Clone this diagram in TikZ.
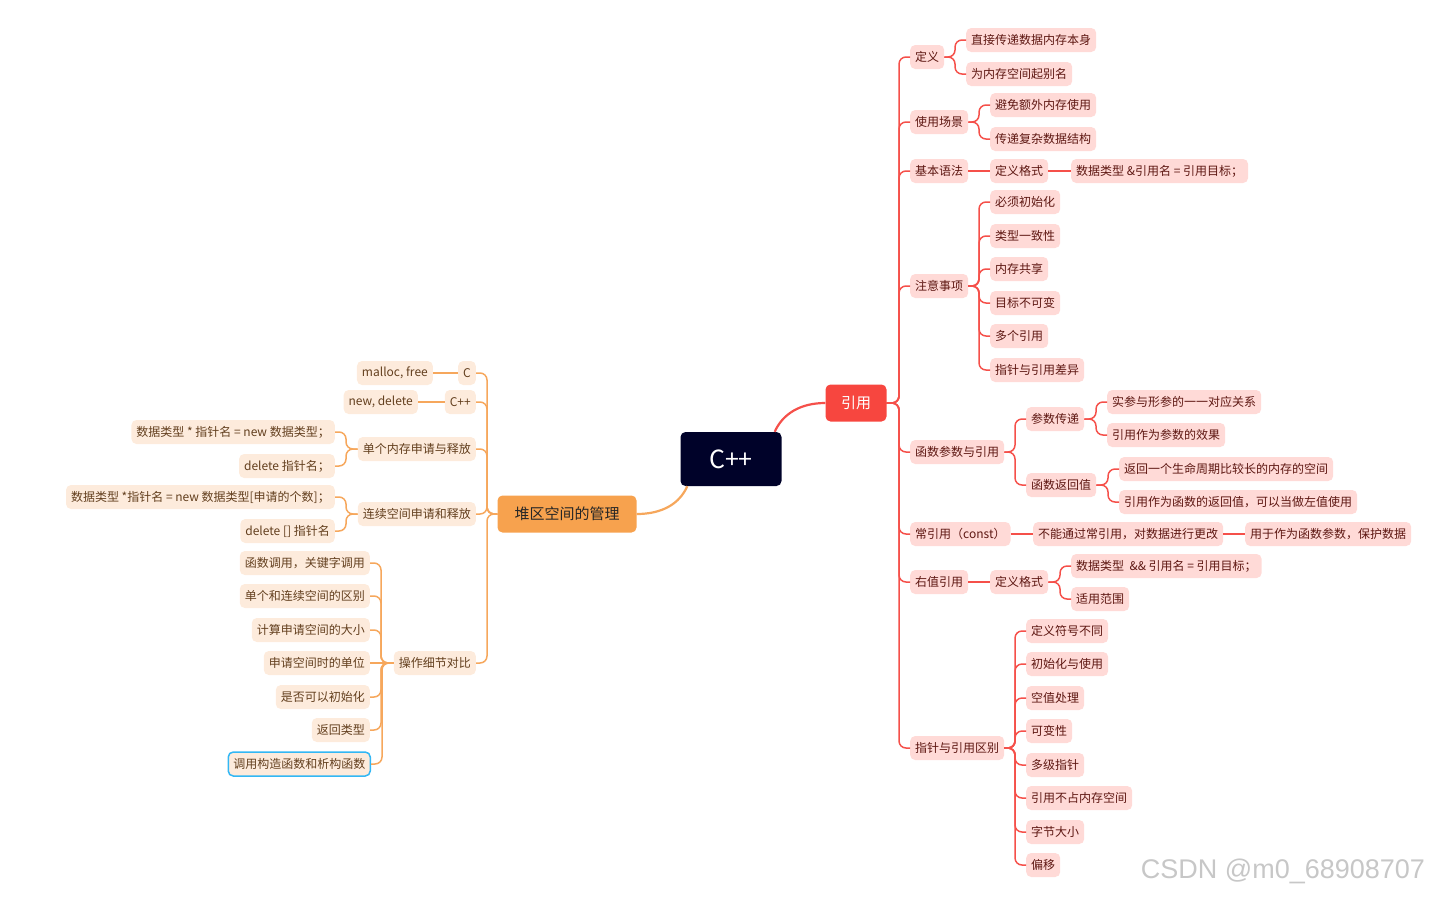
\documentclass[tikz,border=0pt]{standalone}
\usepackage{fontspec}
\setmainfont{Noto Sans CJK SC}
\newfontfamily\wmfont{Liberation Sans}
\usepackage{xcolor}
\usetikzlibrary{positioning}
\definecolor{hubfill}{HTML}{000229}
\definecolor{refred}{HTML}{F7463F}
\definecolor{refline}{HTML}{F5504A}
\definecolor{refleaf}{HTML}{FFDAD7}
\definecolor{reftext}{HTML}{5E1712}
\definecolor{heaporg}{HTML}{F7A24E}
\definecolor{heapline}{HTML}{F6A75C}
\definecolor{heapleaf}{HTML}{FDEBDC}
\definecolor{heaptext}{HTML}{633F1E}
\definecolor{selblue}{HTML}{33B7F4}

\begin{document}
\begin{tikzpicture}[x=1pt, y=-1pt,
    font=\fontsize{12}{14}\selectfont,
    rln/.style={draw=refline, line width=1.5pt, rounded corners=7pt},
    oln/.style={draw=heapline, line width=1.5pt, rounded corners=7pt},
    rnd/.style={fill=refleaf, text=reftext, rounded corners=5pt,
                minimum height=24pt, inner xsep=5pt, inner ysep=0pt, anchor=west},
    ond/.style={fill=heapleaf, text=heaptext, rounded corners=5pt,
                minimum height=24pt, inner xsep=5pt, inner ysep=0pt, anchor=east}]
  \useasboundingbox (0,0) rectangle (1431,897);

  % centre and the two main branches
  \node[fill=hubfill, text=white, rounded corners=5pt, minimum width=101pt,
        minimum height=54pt, font=\fontsize{25}{30}\selectfont] (hub) at (731,459) {C++};
  \node[fill=refred, text=white, rounded corners=5pt, minimum width=61pt,
        minimum height=37pt, font=\fontsize{15}{18}\selectfont] (yy) at (856,403) {引用};
  \node[fill=heaporg, text=black!85, rounded corners=5pt, minimum width=139pt,
        minimum height=37pt, font=\fontsize{15}{18}\selectfont] (heap) at (567,514) {堆区空间的管理};
  \draw[refline, line width=2.2pt] ([xshift=-7pt]hub.north east)
       .. controls +(8,-18) and +(-25,0) .. (yy.west);
  \draw[heapline, line width=2.2pt] ([xshift=7pt]hub.south west)
       .. controls +(-8,18) and +(25,0) .. (heap.east);

  % right side: 引用
  \node[rnd] (d1) at (910,57)  {定义};
  \node[rnd] (d2) at (910,122) {使用场景};
  \node[rnd] (d3) at (910,171) {基本语法};
  \node[rnd] (d4) at (910,286) {注意事项};
  \node[rnd] (d5) at (910,452) {函数参数与引用};
  \node[rnd] (d6) at (910,534) {常引用（const）};
  \node[rnd] (d7) at (910,582) {右值引用};
  \node[rnd] (d8) at (910,748) {指针与引用区别};

  \node[rnd] (d1a) at (966,40) {直接传递数据内存本身};
  \node[rnd] (d1b) at (966,74) {为内存空间起别名};
  \node[rnd] (d2a) at (990,105) {避免额外内存使用};
  \node[rnd] (d2b) at (990,139) {传递复杂数据结构};
  \node[rnd] (d3a) at (990,171) {定义格式};
  \node[rnd] (d3b) at (1071,171) {数据类型 \&引用名 = 引用目标；};

  \node[rnd] (d4a) at (990,202) {必须初始化};
  \node[rnd] (d4b) at (990,236) {类型一致性};
  \node[rnd] (d4c) at (990,269) {内存共享};
  \node[rnd] (d4d) at (990,303) {目标不可变};
  \node[rnd] (d4e) at (990,336) {多个引用};
  \node[rnd] (d4f) at (990,370) {指针与引用差异};

  \node[rnd] (d5a) at (1026,419) {参数传递};
  \node[rnd] (d5b) at (1026,485) {函数返回值};
  \node[rnd] (d5a1) at (1107,402) {实参与形参的一一对应关系};
  \node[rnd] (d5a2) at (1107,435) {引用作为参数的效果};
  \node[rnd] (d5b1) at (1119,469) {返回一个生命周期比较长的内存的空间};
  \node[rnd] (d5b2) at (1119,502) {引用作为函数的返回值，可以当做左值使用};

  \node[rnd] (d6a) at (1033,534) {不能通过常引用，对数据进行更改};
  \node[rnd] (d6b) at (1245,534) {用于作为函数参数，保护数据};

  \node[rnd] (d7a) at (990,582) {定义格式};
  \node[rnd] (d7a1) at (1071,566) {数据类型\ \ \&\& 引用名 = 引用目标；};
  \node[rnd] (d7a2) at (1071,599) {适用范围};

  \node[rnd] (d8a) at (1026,631) {定义符号不同};
  \node[rnd] (d8b) at (1026,664) {初始化与使用};
  \node[rnd] (d8c) at (1026,698) {空值处理};
  \node[rnd] (d8d) at (1026,731) {可变性};
  \node[rnd] (d8e) at (1026,765) {多级指针};
  \node[rnd] (d8f) at (1026,798) {引用不占内存空间};
  \node[rnd] (d8g) at (1026,832) {字节大小};
  \node[rnd] (d8h) at (1026,865) {偏移};

  \foreach \c in {d1,d2,d3,d4,d5,d6,d7,d8}
    \draw[rln] (yy.east) -| ([xshift=-11pt]\c.west) -- (\c.west);
  \foreach \p/\c in {d1/d1a, d1/d1b, d2/d2a, d2/d2b,
                     d4/d4a, d4/d4b, d4/d4c, d4/d4d, d4/d4e, d4/d4f,
                     d5/d5a, d5/d5b, d5a/d5a1, d5a/d5a2, d5b/d5b1, d5b/d5b2,
                     d7a/d7a1, d7a/d7a2,
                     d8/d8a, d8/d8b, d8/d8c, d8/d8d, d8/d8e, d8/d8f, d8/d8g, d8/d8h}
    \draw[rln] (\p.east) -| ([xshift=-11pt]\c.west) -- (\c.west);
  % straight links on one level
  \foreach \p/\c in {d3/d3a, d3a/d3b, d6/d6a, d6a/d6b, d7/d7a}
    \draw[rln] (\p.east) -- (\c.west);

  % left side: 堆区空间的管理
  \node[ond] (h1) at (476,373) {C};
  \node[ond] (h2) at (476,402) {C++};
  \node[ond] (h3) at (476,449) {单个内存申请与释放};
  \node[ond] (h4) at (476,514) {连续空间申请和释放};
  \node[ond] (h5) at (476,663) {操作细节对比};

  \node[ond] (h1a) at (433,373) {malloc, free};
  \node[ond] (h2a) at (418,402) {new, delete};
  \node[ond] (h3a) at (335,432) {数据类型 * 指针名 = new 数据类型；};
  \node[ond] (h3b) at (335,466) {delete 指针名；};
  \node[ond] (h4a) at (335,497) {数据类型 *指针名 = new 数据类型[申请的个数]；};
  \node[ond] (h4b) at (335,531) {delete [] 指针名};

  \node[ond] (h5a) at (370,563) {函数调用，关键字调用};
  \node[ond] (h5b) at (370,596) {单个和连续空间的区别};
  \node[ond] (h5c) at (370,630) {计算申请空间的大小};
  \node[ond] (h5d) at (370,663) {申请空间时的单位};
  \node[ond] (h5e) at (370,697) {是否可以初始化};
  \node[ond] (h5f) at (370,730) {返回类型};
  \node[ond, draw=selblue, line width=1.5pt] (h5g) at (371,764) {调用构造函数和析构函数};

  \foreach \c in {h1,h2,h3,h4,h5}
    \draw[oln] (heap.west) -| ([xshift=11pt]\c.east) -- (\c.east);
  \foreach \p/\c in {h3/h3a, h3/h3b, h4/h4a, h4/h4b,
                     h5/h5a, h5/h5b, h5/h5c, h5/h5e, h5/h5f, h5/h5g}
    \draw[oln] (\p.west) -| ([xshift=11pt]\c.east) -- (\c.east);
  % straight links on one level
  \foreach \p/\c in {h1/h1a, h2/h2a, h5/h5d}
    \draw[oln] (\p.west) -- (\c.east);

  % watermark
  \node[text=black!22, font=\wmfont\fontsize{27}{30}\selectfont] (wm) at (1283,871) {CSDN @m0\_68908707};
\end{tikzpicture}
\end{document}
